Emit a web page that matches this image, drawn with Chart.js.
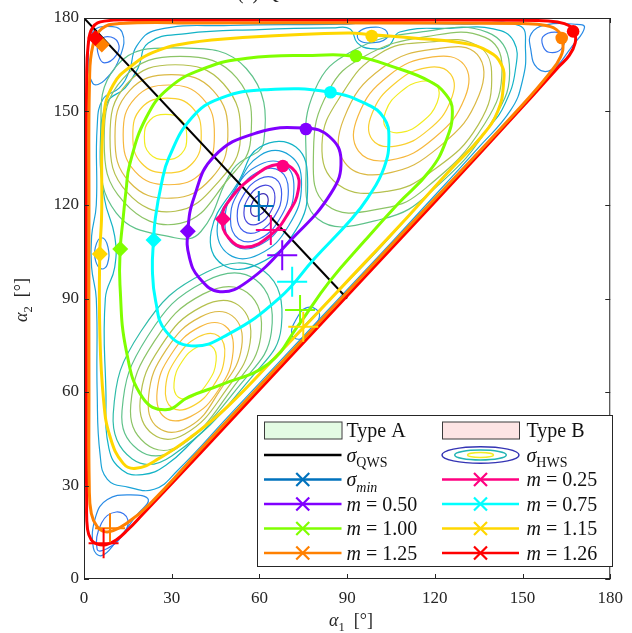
<!DOCTYPE html>
<html>
<head>
<meta charset="utf-8">
<script src="https://cdn.jsdelivr.net/npm/chart.js@4.4.1/dist/chart.umd.min.js"></script>
<style>
html,body{margin:0;padding:0;background:#fff;}
#wrap{width:632px;height:633px;position:relative;}
</style>
</head>
<body>
<div id="wrap"><canvas id="c"></canvas></div>
<script>
// ---- values (degrees) ----
var tickX = [0, 30, 60, 90, 120, 150, 180];
var tickY = [0, 30, 60, 90, 120, 150, 180];
var mLabels = ['0.25', '0.50', '0.75', '1.00', '1.15', '1.25', '1.26'];

// closed orbits, flat [a1,a2, a1,a2, ...]
var orbit025 = [47.2,115.8, 49.8,121.6, 57.8,129, 66.6,133.1, 72.3,130.7, 73.3,124.8, 69.9,117.4, 63.9,110.4, 55.5,106.5, 49.5,109.4];
var orbit050 = [35.5,111.4, 36.0,103.4, 39.5,96.5, 46.5,92.2, 56,95.5, 70.5,108.5, 84.5,123.8, 87.9,134.4, 84.0,141.9, 75.6,144.7, 58.9,143.1, 44.4,135.5, 37.7,122.6];
var orbit075 = [23.8,108.8, 24.4,115.8, 26.4,126.4, 29.0,135.1, 36.8,147.9, 46.8,154.3, 62.5,157.0, 84.2,156.2, 97.0,152.2, 102.6,147.9, 104.3,141.5, 102.6,131.9, 97.0,122.2, 91.2,115.2, 79.0,103.0, 66.9,90.2, 49.1,78.4, 36.8,74.8, 27.9,79.6, 24.5,89.2, 23.4,99.1];
var orbit100 = [12.4,105.9, 13.4,115.8, 14.4,124.8, 15.6,132.9, 21.2,147.9, 29.0,157.5, 41.3,163.9, 55.8,167.1, 78.1,168.0, 92.6,167.7, 107.1,163.9, 118.2,159.7, 123.8,155.4, 126.0,150.1, 123.8,140.5, 118.2,130.9, 107.1,120.1, 96,108.5, 84,95.5, 73,81, 63,69, 46.8,62.3, 36,58.5, 27.9,54.3, 20.1,58.1, 14.5,73.1, 12.3,94.4];
var orbit115 = [5.4,104.3, 6.0,115.8, 6.7,147.9, 10.0,158.6, 16.7,165.0, 24.5,169.3, 35.7,172.0, 55.8,173.8, 90.3,175.2, 98.0,174.6, 112.6,173.6, 129.4,172.0, 138.3,169.3, 142.8,165.0, 143.5,159, 141.5,150, 136,142, 125,131, 111,116.5, 90,95.5, 67.8,73.5, 49.1,55.3, 36.8,45.7, 25.7,38.7, 17.8,35.5, 13.4,37.1, 8.9,45.7, 6.7,57.4, 5.4,79.9];
var orbit125 = [1.7,60, 1.7,120, 1.9,160, 3,171, 6,176.5, 12,178.2, 40,178.4, 100,178.4, 150,178.2, 158,177.6, 162.5,175.5, 163.8,172, 163,167.5, 159,162, 150,152.2, 120,122, 80,82, 40,41.7, 22,23.6, 14.5,17.8, 10,15.5, 7,15.2, 4.5,16.8, 2.5,21, 1.8,30];
var orbit126 = [0.8,60, 0.8,120, 0.9,160, 1.4,171, 3,177, 7,179, 20,179.3, 100,179.3, 155,179.2, 162,178.7, 166,177.5, 167.8,175.5, 168,172, 166,168, 162,164, 150,151.5, 120,121, 80,80.8, 40,40.6, 20,20.7, 15,15.8, 11,12.5, 7.5,11, 4.5,11.2, 2.5,12.5, 1.2,16, 0.9,25];

var circlePts  = [[68,132.5], [75.9,144.4], [84.3,156.2], [93,167.8], [98.4,174.2], [163.4,173.6], [167.3,175.7]];
var diamondPts = [[47.5,115.5], [35.5,111.6], [23.8,108.8], [12.4,105.9], [5.4,104.3], [6.1,171.5], [3.9,173.6]];
var crossPts   = [[63.9,112.0], [67.8,103.9], [71.2,95.4], [73.9,86.3], [75.0,80.9], [8.9,16.3], [6.7,11.5]];
var sigmaMin   = [59.8, 119.7];
var qwsLine    = [0,180, 90,90];

// contour lines: [level, closed outline]
var ringsMin = [
  [0, [62.2,123.4, 60.0,123.3, 57.9,121.4, 57.0,118.6, 57.8,116.6, 60.0,116.7, 62.1,118.6, 63.0,121.4]],
  [1, [63.8,125.9, 60.1,125.9, 56.3,122.4, 54.7,117.5, 56.2,114.1, 59.9,114.1, 63.7,117.6, 65.3,122.5]],
  [2, [65.5,128.4, 60.1,128.4, 54.7,123.4, 52.4,116.5, 54.6,111.6, 59.9,111.6, 65.3,116.6, 67.6,123.5]],
  [3, [67.1,130.9, 60.1,130.9, 53.1,124.5, 50.1,115.4, 52.9,109.1, 59.9,109.1, 66.9,115.5, 69.9,124.6]],
  [4, [68.5,133.0, 60.2,133.0, 51.8,125.3, 48.2,114.6, 51.6,107.0, 59.8,107.0, 68.2,114.7, 71.8,125.4]],
  [5, [70.4,135.9, 60.2,135.9, 51.5,124.5, 45.6,113.3, 49.6,104.1, 59.8,104.1, 70.1,113.5, 74.4,126.7]],
  [6, [72.5,138.6, 60.2,138.6, 53,127.8, 43.5,111.5, 47.5,100.8, 59.8,101.2, 72.5,112, 76.5,126.5]]
];
var ringsA = [
  [14, [35.15,141.8, 33.3,147.2, 27.9,149.05, 22.5,147.2, 20.65,141.8, 22.5,136.4, 27.9,134.55, 33.3,136.4]],
  [13, [40.1,142.3, 37.1,151.2, 28.4,154.3, 19.7,151.2, 16.7,142.3, 19.7,133.4, 28.4,130.3, 37.1,133.4]],
  [12, [44.6,142.5, 40.5,154.3, 29,158.5, 17.5,154.3, 13.4,142.5, 17.5,130.7, 29,126.5, 40.5,130.7]],
  [11, [49.2,142, 44.2,156.7, 29.9,161.8, 15.6,156.7, 10.6,142, 15.6,127.3, 29.9,122.2, 43.5,128.5]],
  [10, [53.5,141.5, 47.7,158.9, 31.2,165, 14.7,158.9, 8.9,141.5, 14.7,124.1, 31.2,118, 46.5,128]],
  [9,  [57,140.9, 52.3,160.7, 32.9,167.7, 13.5,160.7, 6.9,140.9, 13.5,121.1, 32.9,114.1, 49.5,128.5]],
  [8,  [61.5,140.5, 55.5,163.8, 33,170.4, 11,164.5, 5.9,140, 11,117.5, 31,109.5, 40,111.5, 51,131.5]]
];
var ringsB = [
  [14, [120.7,158.3, 115.5,159.7, 108.3,156.3, 103.2,150.1, 103.3,144.7, 108.5,143.3, 115.7,146.7, 120.8,152.9]],
  [13, [125.4,162.0, 117.4,164.1, 106.2,158.9, 98.5,149.3, 98.6,141.0, 106.6,138.9, 117.8,144.1, 125.5,153.7]],
  [12, [130,165, 119.3,167.5, 104.2,161.5, 93.7,148.5, 93.9,137.3, 104.7,134.4, 119.8,141.5, 130.3,154.5]],
  [11, [134.5,168.3, 121.2,170.2, 102.2,164.1, 88.9,147.8, 89.2,133.6, 102.8,130.0, 121.8,138.9, 135.1,155.2]],
  [10, [81.4,139.4, 88.1,155.4, 101.5,168.8, 118.2,172.3, 133.8,171.5, 139.4,162.9, 134.9,145.8, 118.5,130.5, 103.7,124.4, 87.0,126.5]],
  [9,  [78.5,137.2, 83.6,156.5, 95.5,167.5, 117.1,174.0, 137.2,173.8, 143.0,164.0, 137.0,146.0, 117.0,125.5, 102.6,119.0, 83,120]],
  [8,  [76,135, 79,157, 92,169.5, 116,175.6, 138,175.4, 145.5,165, 140,147.5, 119,124.5, 102,115.5, 80,115.5]]
];
var ringsC = [
  [14, [43.7,74.7, 38.9,74.5, 33.5,69.7, 30.8,62.9, 32.3,58.3, 37.1,58.5, 42.5,63.3, 45.2,70.1]],
  [13, [46.0,78.0, 39.2,77.7, 31.7,70.9, 27.9,61.5, 30.0,55.0, 36.8,55.3, 44.3,62.1, 48.1,71.5]],
  [12, [48.3,81.2, 39.6,80.9, 29.9,72.2, 25.0,60.1, 27.7,51.8, 36.4,52.1, 46.1,60.8, 51.0,72.9]],
  [11, [50.6,84.5, 39.9,84.1, 28.1,73.5, 22.1,58.7, 25.4,48.5, 36.1,48.9, 46.5,60.5, 53.9,74.3]],
  [10, [52.9,87.8, 40.3,87.4, 26.3,74.7, 19.2,57.2, 23.5,46.5, 34.5,46.5, 48.5,60.5, 56.8,75.8]],
  [9,  [55.8,91.9, 40.7,91.4, 24.1,76.3, 16,56, 21,43.5, 33.0,43.0, 51.0,61.5, 60.4,77.5]],
  [8,  [58.7,96.0, 41.2,95.4, 21.8,77.9, 13,54, 18.5,41.5, 31.0,41.5, 54.0,63.0, 64.1,79.3]],
  [7,  [61.5,98.8, 42,98.5, 19.5,79.5, 10,53, 16.5,38.5, 30,39.5, 58,65.5, 67.5,81]]
];
var loops = [
  [3, [4.5,9.5, 8,9.8, 13,13.8, 15,19, 11,21.5, 6,18]],
  [4, [3.2,10, 4,20, 8,25.5, 16,27, 22,25.5, 18,20.5, 11,12, 6,7.5]],
  [4, [6,109.5, 8.2,106.5, 8,101, 6,99.5, 4,102, 3.9,106.5]],
  [4, [94,175.5, 98,177, 103,176.2, 103.5,173.5, 98,172, 94,173]],
  [3, [157,174, 161,175.5, 164,174, 163.2,170, 159,169, 157,171]],
  [4, [153,175, 158,177.8, 168,178, 171.2,177, 167,171, 160,163.5, 155,164, 152.8,170]],
  [3, [5,172, 8,174, 11.7,172, 11,168, 7,165.6, 5,168]],
  [4, [1.5,168, 3,175.5, 8,177.3, 13,175.5, 12.5,168, 7,160, 3,159]],
  [4, [71,78.5, 73,84, 76,87, 79.5,86.5, 80.5,84, 78,80, 74,77]]
];
var edgeLines = [
  [5, [5.5,40, 4.5,60, 4.2,90, 2.6,100, 2.6,110, 4.2,120, 4.5,145, 6.5,154, 12,157.5, 15.5,163, 18,171, 25,176.2, 50,177.6, 88,178, 98,178.6, 108,178.3, 130,178, 149,177.5, 151,170, 150,160, 146,150.5, 135,138.5, 115,118, 95,97.8, 70,72.9, 50,52.8, 32,34.8, 24,28.8, 15,29.5, 8,32]],
  [6, [8.5,42, 7.5,60, 7.3,90, 10.5,100, 10.5,110, 7,122, 5.6,140, 8,153, 14,157.5, 18.5,164, 22,172, 35,175, 60,176.3, 85,176.8, 91,176.5, 93.5,172, 98,170.2, 104,171, 108,175.5, 125,176.7, 140,176.5, 147,172.5, 147.5,163, 144,152.5, 139,145.5, 120,126, 100,105, 75,81, 55,60.8, 38,45, 28,36.5, 20,33.5, 13,35]]
];

// ---- styles ----
var parula = ['#3e2fb6','#4545dc','#3f5cee','#3574ef','#2a8be6','#1aa3d8','#13b3c6','#2fbca9','#5fc28a','#8cc467','#b5c04e','#dbb944','#f6b83e','#f9d030','#f2ec22'];
var orbitColor = ['#ff0080','#8000ff','#00ffff','#80ff00','#ffd700','#ff8000','#ff0000'];
var orbits = [orbit025, orbit050, orbit075, orbit100, orbit115, orbit125, orbit126];
var SERIF = "'Liberation Serif', 'DejaVu Serif', serif";

function toPts(flat){
	var p = [];
	for (var i = 0; i < flat.length; i += 2) p.push({x: flat[i], y: flat[i+1]});
	return p;
}
// closed smooth outline: pad both ends, hide the two padding segments
function closedSet(flat, color, width, order){
	var p = toPts(flat), n = p.length;
	var data = [p[n-1]].concat(p, [p[0], p[1]]);
	return {
		data: data, borderColor: color, borderWidth: width, pointRadius: 0,
		tension: 0.45, fill: false, order: order,
		segment: { borderColor: function(c){ return (c.p0DataIndex === 0 || c.p0DataIndex === n + 1) ? 'rgba(0,0,0,0)' : undefined; } }
	};
}
function markerSet(list, style, radius, colors, bw, order){
	return {
		data: list.map(function(q){ return {x: q[0], y: q[1]}; }),
		showLine: false, pointStyle: style, pointRadius: radius,
		pointBackgroundColor: colors, pointBorderColor: colors, pointBorderWidth: bw, order: order
	};
}

var datasets = [];
[ringsMin, ringsA, ringsB, ringsC, loops, edgeLines].forEach(function(group){
	group.forEach(function(r){ datasets.push(closedSet(r[1], parula[r[0]], 1.2, 30)); });
});
datasets.push({data: toPts(qwsLine), borderColor: '#000', borderWidth: 2, pointRadius: 0, order: 20});
orbits.forEach(function(o, i){ datasets.push(closedSet(o, orbitColor[i], 3, 10)); });
datasets.push(markerSet([sigmaMin], 'cross', 15, ['#0072bd'], 2, 3));
datasets.push(markerSet(crossPts, 'cross', 15, orbitColor, 2, 2));
datasets.push(markerSet(circlePts, 'circle', 6.3, orbitColor, 0, 1));
datasets.push(markerSet(diamondPts, 'rectRot', 8, orbitColor, 0, 1));

// ---- text helpers ----
function richText(ctx, x, y, parts, size){
	parts.forEach(function(pt){
		var s = pt.sub ? size * 0.7 : size;
		ctx.font = (pt.it ? 'italic ' : '') + s + 'px ' + SERIF;
		ctx.fillText(pt.t, x, y + (pt.sub ? size * 0.28 : 0));
		x += ctx.measureText(pt.t).width;
	});
	return x;
}
function xMark(ctx, x, y, r, color){
	ctx.strokeStyle = color; ctx.lineWidth = 2.2;
	ctx.beginPath(); ctx.moveTo(x-r, y-r); ctx.lineTo(x+r, y+r); ctx.moveTo(x+r, y-r); ctx.lineTo(x-r, y+r); ctx.stroke();
}

var decor = {
	id: 'decor',
	afterDatasetsDraw: function(chart){
		var ctx = chart.ctx, a = chart.chartArea, sx = chart.scales.x, sy = chart.scales.y;
		ctx.save();
		ctx.strokeStyle = '#262626'; ctx.lineWidth = 1;
		ctx.strokeRect(a.left + 0.5, a.top + 0.5, a.right - a.left - 1, a.bottom - a.top - 1);
		ctx.beginPath();
		tickX.forEach(function(v){
			var px = Math.round(sx.getPixelForValue(v)) + 0.5;
			ctx.moveTo(px, a.bottom); ctx.lineTo(px, a.bottom - 5);
			ctx.moveTo(px, a.top); ctx.lineTo(px, a.top + 5);
		});
		tickY.forEach(function(v){
			var py = Math.round(sy.getPixelForValue(v)) + 0.5;
			ctx.moveTo(a.left, py); ctx.lineTo(a.left + 5, py);
			ctx.moveTo(a.right, py); ctx.lineTo(a.right - 5, py);
		});
		ctx.stroke();
		ctx.restore();
	},
	afterDraw: function(chart){
		var ctx = chart.ctx;
		ctx.save();
		ctx.fillStyle = '#262626';
		ctx.textBaseline = 'alphabetic';
		// cut-off title
		richText(ctx, 237, -1, [{t: '(c) QWS'}], 20);
		// axis titles
		richText(ctx, 329, 626, [{t: 'α', it: true}, {t: '1', sub: true}, {t: '  [°]'}], 18);
		ctx.save();
		ctx.translate(27, 322); ctx.rotate(-Math.PI / 2);
		richText(ctx, 0, 0, [{t: 'α', it: true}, {t: '2', sub: true}, {t: '  [°]'}], 18);
		ctx.restore();

		// legend
		var L = 257, T = 415, R = 612, B = 566;
		ctx.fillStyle = '#fff'; ctx.fillRect(L, T, R - L, B - T);
		ctx.strokeStyle = '#262626'; ctx.lineWidth = 1; ctx.strokeRect(L + 0.5, T + 0.5, R - L, B - T);
		var rows = [430.5, 455, 479.5, 504, 528.5, 553];
		var cols = [[264, 341.5, 346.5], [442, 519, 526.5]];
		var fs = 20;
		function label(col, row, parts){
			ctx.fillStyle = '#111';
			richText(ctx, cols[col][2], rows[row] + 6.5, parts, fs);
		}
		function lineIcon(col, row, color, mark){
			var y = rows[row];
			ctx.strokeStyle = color; ctx.lineWidth = 2.5;
			ctx.beginPath(); ctx.moveTo(cols[col][0], y); ctx.lineTo(cols[col][1], y); ctx.stroke();
			if (mark) xMark(ctx, (cols[col][0] + cols[col][1]) / 2, y, 6.5, color);
		}
		// Type A / Type B patches
		[['#e3fbe3', 'Type A'], ['#fde4e4', 'Type B']].forEach(function(p, i){
			ctx.fillStyle = p[0]; ctx.fillRect(cols[i][0], rows[0] - 8.5, cols[i][1] - cols[i][0], 17);
			ctx.strokeStyle = '#3a3a3a'; ctx.lineWidth = 1;
			ctx.strokeRect(cols[i][0] + 0.5, rows[0] - 8.5, cols[i][1] - cols[i][0], 17);
			label(i, 0, [{t: p[1]}]);
		});
		lineIcon(0, 1, '#000', false);
		label(0, 1, [{t: 'σ', it: true}, {t: 'QWS', sub: true}]);
		var cx = (cols[1][0] + cols[1][1]) / 2;
		[[38.5, 8.3, '#3434b4'], [25.8, 5, '#22b4b4'], [13, 2.4, '#f2ec22']].forEach(function(e){
			ctx.strokeStyle = e[2]; ctx.lineWidth = 1.5;
			ctx.beginPath(); ctx.ellipse(cx, rows[1], e[0], e[1], 0, 0, Math.PI * 2); ctx.stroke();
		});
		label(1, 1, [{t: 'σ', it: true}, {t: 'HWS', sub: true}]);
		lineIcon(0, 2, '#0072bd', true);
		label(0, 2, [{t: 'σ', it: true}, {t: 'min', it: true, sub: true}]);
		for (var i = 0; i < 7; i++){
			var slot = i + 1, col = slot % 2, row = 2 + Math.floor(slot / 2);
			lineIcon(col, row, orbitColor[i], true);
			label(col, row, [{t: 'm', it: true}, {t: ' = ' + mLabels[i]}]);
		}
		ctx.restore();
	}
};

new Chart(document.getElementById('c'), {
	type: 'line',
	data: { datasets: datasets },
	options: {
		responsive: true,
		maintainAspectRatio: false,
		animation: false,
		devicePixelRatio: 1,
		events: [],
		layout: { padding: { top: 18, right: 10, left: 0, bottom: 0 } },
		plugins: { legend: { display: false }, tooltip: { enabled: false } },
		scales: {
			x: {
				type: 'linear', min: 0, max: 180,
				afterFit: function(s){ s.height = 54; },
				afterBuildTicks: function(s){ s.ticks = tickX.map(function(v){ return {value: v}; }); },
				grid: { display: false, drawTicks: false },
				border: { display: false },
				ticks: { color: '#262626', padding: 9, font: { family: SERIF, size: 17 } }
			},
			y: {
				type: 'linear', min: 0, max: 180,
				afterFit: function(s){ s.width = 84; },
				afterBuildTicks: function(s){ s.ticks = tickY.map(function(v){ return {value: v}; }); },
				grid: { display: false, drawTicks: false },
				border: { display: false },
				ticks: { color: '#262626', padding: 5, font: { family: SERIF, size: 17 } }
			}
		}
	},
	plugins: [decor]
});
</script>
</body>
</html>
